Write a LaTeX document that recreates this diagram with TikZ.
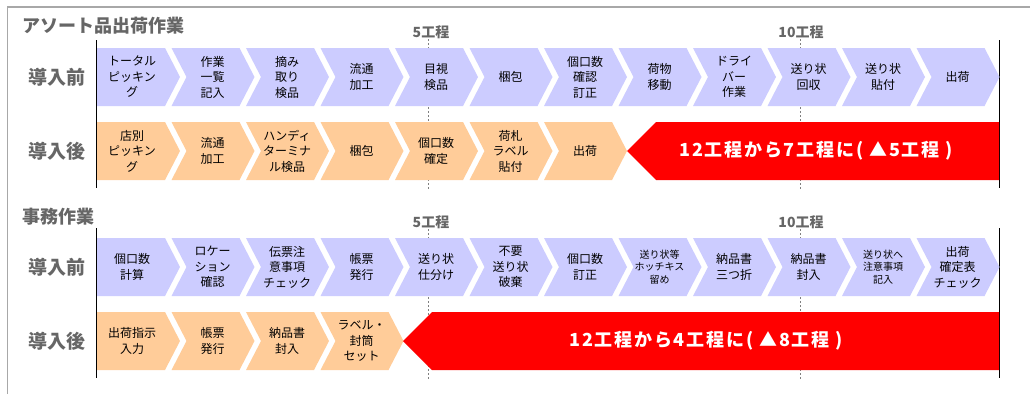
\documentclass[tikz,border=0pt]{standalone}
\usepackage{fontspec}
\setmainfont{Noto Sans CJK JP}
\newfontfamily\redfont[LetterSpace=10]{Noto Sans CJK JP}
\definecolor{lav}{HTML}{CCCCFF}
\definecolor{peach}{HTML}{FFCC99}
\definecolor{lbl}{HTML}{666666}
\definecolor{framec}{HTML}{A8A8A8}
\definecolor{redarrow}{HTML}{FF0000}
\tikzset{
  ctext/.style={align=center,font=\fontsize{12}{15.5}\selectfont,inner sep=0pt},
  stext/.style={align=center,font=\fontsize{10}{12.5}\selectfont,inner sep=0pt},
  rowlbl/.style={font=\bfseries\fontsize{19}{19}\selectfont,text=lbl,inner sep=0pt},
  sectitle/.style={font=\bfseries\fontsize{18}{18}\selectfont,text=lbl,inner sep=0pt,anchor=west},
  tick/.style={font=\bfseries\fontsize{14}{14}\selectfont,text=lbl,inner sep=0pt},
  tickline/.style={draw=gray,line width=1pt,dash pattern=on 2pt off 2pt},
  redtxt/.style={font=\redfont\bfseries\fontsize{18}{18}\selectfont,text=white,inner sep=0pt},
  sideline/.style={draw=black,line width=1pt}
}
% flat-left chevron
\newcommand\chevA[6][ctext]{%
  \fill[#5] (#3,#4) -- ++(68,0) -- ++(15,29) -- ++(-15,29) -- ++(-68,0) -- cycle;
  \node[#1] (#2) at ({#3+35},{#4+29}) {#6};}
% notched chevron
\newcommand\chevB[6][ctext]{%
  \fill[#5] (#3,#4) -- ++(68,0) -- ++(15,29) -- ++(-15,29) -- ++(-68,0) -- ++(15,-29) -- cycle;
  \node[#1] (#2) at ({#3+41},{#4+29}) {#6};}
\begin{document}
\begin{tikzpicture}[x=1pt,y=-1pt]
\useasboundingbox (0,0) rectangle (1030,394);
\fill[white] (0,0) rectangle (1030,394);
% frame
\draw[framec,line width=1.5pt] (7.5,394) -- (7.5,7) -- (1030,7);

% ===== Section 1 =====
\node[sectitle] (t1) at (22,26) {アソート品出荷作業};
\node[tick] (k5a) at (431,32) {5工程};
\node[tick] (k10a) at (801,32) {10工程};
\coordinate (k5aT) at (428,39); \coordinate (k5aB) at (428,190);
\coordinate (k10aT) at (800,39); \coordinate (k10aB) at (800,190);
\draw[tickline] (k5aT) -- (k5aB);
\draw[tickline] (k10aT) -- (k10aB);
\coordinate (l1T) at (96.5,40); \coordinate (l1B) at (96.5,188);
\coordinate (r1T) at (999,40); \coordinate (r1B) at (999,188);
\draw[sideline] (l1T) -- (l1B);
\draw[sideline] (r1T) -- (r1B);
\node[rowlbl] (lb1) at (57,77) {導入前};
\node[rowlbl] (la1) at (57,151) {導入後};

\chevA{a1}{97}{48}{lav}{トータル\\ピッキン\\グ}
\chevB{a2}{171.5}{48}{lav}{作業\\一覧\\記入}
\chevB{a3}{246}{48}{lav}{摘み\\取り\\検品}
\chevB{a4}{320.5}{48}{lav}{流通\\加工}
\chevB{a5}{395}{48}{lav}{目視\\検品}
\chevB{a6}{469.5}{48}{lav}{梱包}
\chevB{a7}{544}{48}{lav}{個口数\\確認\\訂正}
\chevB{a8}{618.5}{48}{lav}{荷物\\移動}
\chevB{a9}{693}{48}{lav}{ドライ\\バー\\作業}
\chevB{a10}{767.5}{48}{lav}{送り状\\回収}
\chevB{a11}{842}{48}{lav}{送り状\\貼付}
\chevB{a12}{916.5}{48}{lav}{出荷}

\chevA{b1}{97}{122}{peach}{店別\\ピッキン\\グ}
\chevB{b2}{171.5}{122}{peach}{流通\\加工}
\chevB{b3}{246}{122}{peach}{ハンディ\\ターミナ\\ル検品}
\chevB{b4}{320.5}{122}{peach}{梱包}
\chevB{b5}{395}{122}{peach}{個口数\\確定}
\chevB{b6}{469.5}{122}{peach}{荷札\\ラベル\\貼付}
\chevB{b7}{544}{122}{peach}{出荷}

\fill[redarrow] (627,151) -- (656,122) -- (999,122) -- (999,180) -- (656,180) -- cycle;
\node[redtxt] (m1) at (816,151) {12工程から7工程に( ▲5工程 )};

% ===== Section 2 =====
\node[sectitle] (t2) at (22,217) {事務作業};
\node[tick] (k5b) at (431,222) {5工程};
\node[tick] (k10b) at (801,222) {10工程};
\coordinate (k5bT) at (428,229); \coordinate (k5bB) at (428,380);
\coordinate (k10bT) at (800,229); \coordinate (k10bB) at (800,380);
\draw[tickline] (k5bT) -- (k5bB);
\draw[tickline] (k10bT) -- (k10bB);
\coordinate (l2T) at (96.5,228); \coordinate (l2B) at (96.5,378);
\coordinate (r2T) at (999,228); \coordinate (r2B) at (999,378);
\draw[sideline] (l2T) -- (l2B);
\draw[sideline] (r2T) -- (r2B);
\node[rowlbl] (lb2) at (57,267) {導入前};
\node[rowlbl] (la2) at (57,341) {導入後};

\chevA{c1}{97}{238}{lav}{個口数\\計算}
\chevB{c2}{171.5}{238}{lav}{ロケー\\ション\\確認}
\chevB{c3}{246}{238}{lav}{伝票注\\意事項\\チェック}
\chevB{c4}{320.5}{238}{lav}{帳票\\発行}
\chevB{c5}{395}{238}{lav}{送り状\\仕分け}
\chevB{c6}{469.5}{238}{lav}{不要\\送り状\\破棄}
\chevB{c7}{544}{238}{lav}{個口数\\訂正}
\chevB[stext]{c8}{618.5}{238}{lav}{送り状等\\ホッチキス\\留め}
\chevB{c9}{693}{238}{lav}{納品書\\三つ折}
\chevB{c10}{767.5}{238}{lav}{納品書\\封入}
\chevB[stext]{c11}{842}{238}{lav}{送り状へ\\注意事項\\記入}
\chevB{c12}{916.5}{238}{lav}{出荷\\確定表\\チェック}

\chevA{d1}{97}{312}{peach}{出荷指示\\入力}
\chevB{d2}{171.5}{312}{peach}{帳票\\発行}
\chevB{d3}{246}{312}{peach}{納品書\\封入}
\chevB{d4}{320.5}{312}{peach}{ラベル・\\封筒\\セット}

\fill[redarrow] (403,341) -- (432,312) -- (999,312) -- (999,370) -- (432,370) -- cycle;
\node[redtxt] (m2) at (706,341) {12工程から4工程に( ▲8工程 )};
\end{tikzpicture}
\end{document}
